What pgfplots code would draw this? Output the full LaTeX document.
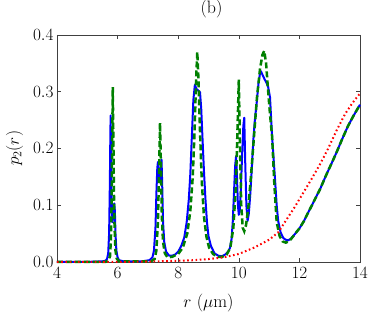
\documentclass[border=0pt]{standalone}
\usepackage{pgfplots}
\pgfplotsset{compat=1.18}
\pgfplotstableread{
x y
4.0 0.000
5.0 0.000
5.5 0.001
5.6 0.002
5.65 0.005
5.69 0.015
5.72 0.05
5.745 0.14
5.76 0.22
5.77 0.258
5.78 0.2
5.80 0.12
5.83 0.07
5.86 0.08
5.89 0.103
5.91 0.09
5.93 0.05
5.96 0.02
6.0 0.008
6.05 0.003
6.2 0.001
6.8 0.001
7.05 0.003
7.15 0.008
7.2 0.02
7.25 0.06
7.28 0.12
7.31 0.165
7.33 0.176
7.36 0.15
7.39 0.14
7.42 0.165
7.45 0.180
7.47 0.14
7.5 0.07
7.54 0.035
7.6 0.018
7.7 0.011
7.8 0.011
7.9 0.013
8.0 0.018
8.1 0.028
8.2 0.043
8.28 0.07
8.35 0.11
8.4 0.155
8.45 0.22
8.5 0.285
8.55 0.312
8.6 0.305
8.66 0.302
8.72 0.299
8.76 0.27
8.8 0.22
8.85 0.16
8.9 0.11
8.95 0.07
9.0 0.045
9.08 0.028
9.2 0.015
9.32 0.011
9.44 0.010
9.55 0.013
9.65 0.018
9.71 0.025
9.76 0.04
9.8 0.07
9.84 0.12
9.88 0.17
9.91 0.186
9.94 0.15
9.97 0.1
10.0 0.083
10.03 0.09
10.07 0.13
10.11 0.19
10.15 0.24
10.18 0.254
10.21 0.18
10.25 0.1
10.29 0.072
10.33 0.085
10.38 0.12
10.43 0.165
10.48 0.215
10.53 0.25
10.59 0.28
10.65 0.315
10.7 0.332
10.73 0.336
10.78 0.33
10.85 0.322
10.92 0.315
10.97 0.308
11.03 0.29
11.1 0.22
11.19 0.15
11.25 0.1
11.3 0.072
11.38 0.052
11.47 0.042
11.55 0.039
11.63 0.038
11.72 0.041
11.85 0.049
12.0 0.059
12.15 0.072
12.3 0.088
12.5 0.109
12.68 0.128
12.9 0.155
13.1 0.178
13.25 0.196
13.4 0.215
13.6 0.239
13.78 0.257
13.9 0.268
14.0 0.277
}\blue
\pgfplotstableread{
x y
4.0 0.000
5.6 0.000
5.7 0.003
5.75 0.01
5.78 0.04
5.8 0.1
5.82 0.2
5.84 0.308
5.86 0.22
5.88 0.12
5.9 0.06
5.93 0.02
5.97 0.006
6.05 0.001
7.1 0.001
7.22 0.005
7.28 0.02
7.33 0.07
7.37 0.16
7.40 0.245
7.43 0.17
7.46 0.08
7.5 0.035
7.56 0.015
7.65 0.008
7.8 0.009
8.0 0.014
8.15 0.025
8.3 0.05
8.4 0.09
8.48 0.15
8.54 0.23
8.59 0.32
8.63 0.37
8.67 0.32
8.72 0.23
8.78 0.14
8.85 0.08
8.93 0.045
9.02 0.025
9.15 0.014
9.3 0.009
9.45 0.009
9.6 0.013
9.72 0.025
9.82 0.06
9.9 0.13
9.95 0.22
10.0 0.321
10.04 0.2
10.08 0.1
10.13 0.06
10.18 0.054
10.24 0.065
10.32 0.1
10.4 0.15
10.5 0.22
10.6 0.29
10.7 0.34
10.78 0.365
10.84 0.372
10.9 0.35
10.97 0.3
11.03 0.26
11.1 0.22
11.17 0.14
11.25 0.07
11.35 0.045
11.45 0.036
11.55 0.034
11.65 0.036
11.72 0.04
11.85 0.049
12.0 0.059
12.15 0.072
12.3 0.088
12.5 0.109
12.68 0.128
12.9 0.155
13.1 0.178
13.25 0.196
13.4 0.215
13.6 0.239
13.78 0.257
13.9 0.268
14.0 0.277
}\green
\pgfplotstableread{
x y
4 0.000
6 0.000
7 0.0005
8 0.002
8.5 0.003
9 0.005
9.5 0.008
10 0.014
10.5 0.025
11 0.039
11.3 0.052
11.58 0.075
11.85 0.097
12.13 0.122
12.4 0.146
12.68 0.172
12.95 0.2
13.23 0.232
13.5 0.26
13.75 0.28
14 0.297
}\red
\begin{document}
\begin{tikzpicture}
\begin{axis}[
  scale only axis, width=303bp, height=227bp,
  xmin=4, xmax=14, ymin=0, ymax=0.4,
  xtick={4,6,8,10,12,14}, ytick={0,0.1,0.2,0.3,0.4},
  yticklabel style={/pgf/number format/.cd, fixed, fixed zerofill, precision=1},
  tick align=inside, major tick length=4bp,
  axis line style={black!75, line width=0.8bp},
  every tick/.style={black!75, line width=0.6bp},
  ticklabel style={font=\fontsize{16}{18}\selectfont},
  xticklabel style={yshift=-2bp},
  label style={font=\fontsize{18}{20}\selectfont, inner sep=0pt},
  title style={font=\fontsize{18}{20}\selectfont, inner sep=0pt, at={(axis description cs:0.51,1.088)}, anchor=center},
  xlabel style={at={(axis description cs:0.5,-0.18)}, anchor=center},
  ylabel style={at={(axis description cs:-0.14,0.5)}, anchor=center, rotate=0},
  title={(b)}, xlabel={$r$ ($\mu$m)}, ylabel={$p_2(r)$},
  clip=false,
]
\addplot[blue, line width=2bp, line join=round] table[x=x,y=y] {\blue};
\addplot[green!50!black, line width=2.5bp, dash pattern=on 6bp off 3bp] table[x=x,y=y] {\green};
\addplot[red, line width=2bp, dash pattern=on 1.6bp off 2.6bp] table[x=x,y=y] {\red};
\path (rel axis cs:0,0) ++(-57bp,-60bp) (rel axis cs:1,1) ++(14bp,32bp);
\end{axis}
\end{tikzpicture}
\end{document}
